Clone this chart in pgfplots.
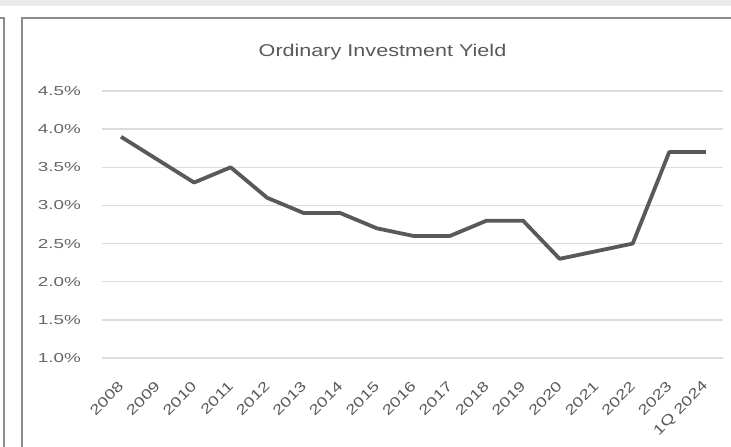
\documentclass[border=0pt]{standalone}
\usepackage{fontspec}
\setmainfont{Liberation Sans}
\newfontfamily\tickfont{Liberation Sans}[FakeStretch=1.3]
\newfontfamily\ytickfont{Liberation Sans}[FakeStretch=1.45]
\newfontfamily\titlefont{Liberation Sans}[FakeStretch=1.27]
\usepackage{pgfplots}
\pgfplotsset{compat=1.18}

\definecolor{linegray}{HTML}{595959}
\definecolor{textgray}{HTML}{595959}
\definecolor{ytextgray}{HTML}{666666}
\definecolor{gridgray}{HTML}{DCDCDC}
\definecolor{framegray}{HTML}{8C8C8C}
\definecolor{bandgray}{HTML}{EBEBEB}

\begin{document}
\begin{tikzpicture}
\useasboundingbox (0pt,0pt) rectangle (731pt,447pt);
% page furniture
\fill[bandgray] (0pt,441pt) rectangle (731pt,447pt);
\draw[framegray, line width=2pt] (21.5pt,0pt) -- (21.5pt,428.5pt) -- (731pt,428.5pt);
\draw[framegray, line width=2pt] (0pt,428.5pt) -- (3.5pt,428.5pt) -- (3.5pt,0pt);

\node[anchor=base, text=textgray, font=\titlefont\fontsize{17}{20}\selectfont]
  at (382.5pt,390pt) {Ordinary Investment Yield};

\begin{axis}[
    at={(102pt,89pt)}, anchor=south west,
    scale only axis, width=621pt, height=267pt,
    xmin=-0.52, xmax=16.47, ymin=1, ymax=4.5,
    axis line style={draw=none},
    major tick length=0pt,
    ymajorgrids,
    grid style={gridgray, line width=1.3pt},
    xtick={0,1,2,3,4,5,6,7,8,9,10,11,12,13,14,15,16},
    xticklabels={2008,2009,2010,2011,2012,2013,2014,2015,2016,2017,2018,2019,2020,2021,2022,2023,1Q 2024},
    ytick={1,1.5,2,2.5,3,3.5,4,4.5},
    yticklabels={1.0\%,1.5\%,2.0\%,2.5\%,3.0\%,3.5\%,4.0\%,4.5\%},
    xticklabel style={xshift=0pt, yshift=-26pt, rotate=45, anchor=east, inner sep=0pt,
        text=textgray, font=\tickfont\fontsize{14}{16}\selectfont},
    yticklabel style={anchor=east, inner sep=0pt, xshift=-21pt,
        text=ytextgray, font=\ytickfont\fontsize{13}{15}\selectfont},
    clip=false,
]
\addplot[linegray, line width=3.8pt, line join=round, mark=none] coordinates {
    (0,3.9) (1,3.6) (2,3.3) (3,3.5) (4,3.1) (5,2.9) (6,2.9) (7,2.7) (8,2.6)
    (9,2.6) (10,2.8) (11,2.8) (12,2.3) (13,2.4) (14,2.5) (15,3.7) (16,3.7)
};
\end{axis}
\end{tikzpicture}
\end{document}
